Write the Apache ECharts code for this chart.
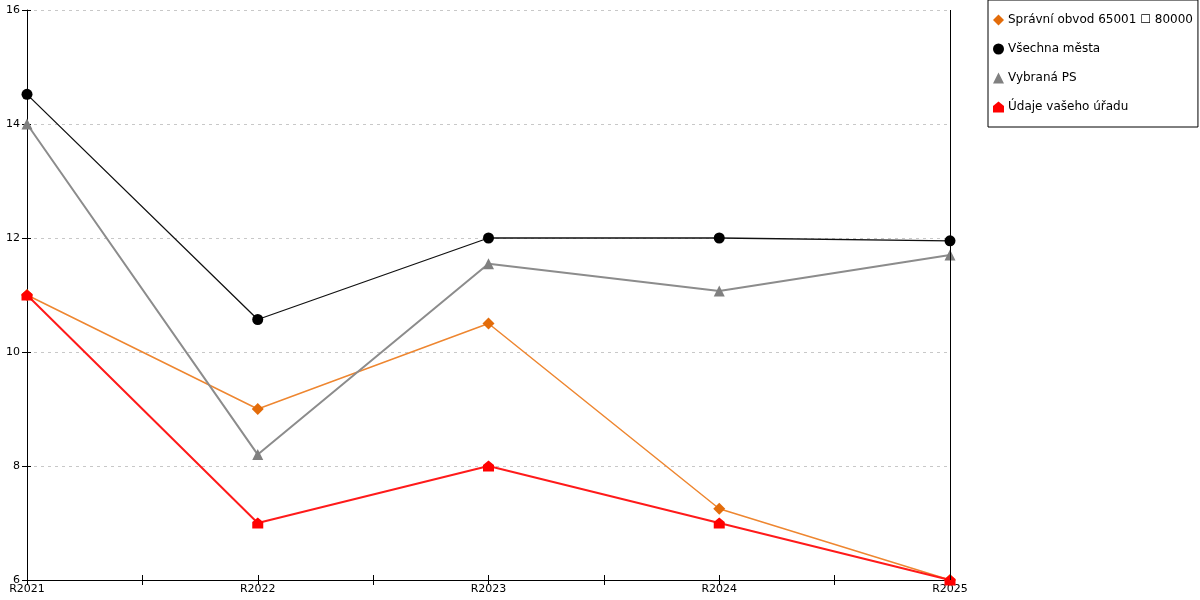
<!DOCTYPE html>
<html>
<head>
  <meta charset="utf-8">
  <title>Graf</title>
  <script src="https://cdn.jsdelivr.net/npm/echarts@6/dist/echarts.min.js"></script>
  <style>
    html, body { margin: 0; padding: 0; background: #fff; }
    #chart { width: 1200px; height: 600px; }
  </style>
</head>
<body>
<div id="chart"></div>
<script>
  // data
  const years = ['R2021', 'R2022', 'R2023', 'R2024', 'R2025'];
  const seriesNames = ['Správní obvod 65001 \u2610 80000', 'Všechna města', 'Vybraná PS', 'Údaje vašeho úřadu'];
  const obvod = [11, 9, 10.5, 7.25, 6];
  const mesta = [14.52, 10.57, 12, 12, 11.95];
  const vybranaPS = [14, 8.2, 11.55, 11.07, 11.7];
  const urad = [11, 7, 8, 7, 6];

  const house = 'path://M0,4 L5,0 L10,4 L10,10 L0,10 Z';
  const font = 'DejaVu Sans';

  function pts(arr) {
    return arr.map((v, i) => [i, v]);
  }

  // shared axis settings; second copies draw the inner half of each tick
  const xBase = {
    type: 'value',
    position: 'bottom',
    min: 0,
    max: years.length - 1,
    interval: 0.5,
    splitLine: { show: false }
  };
  const yBase = {
    type: 'value',
    position: 'left',
    min: 6,
    max: 16,
    interval: 2
  };

  let chart = echarts.init(document.getElementById('chart'));
  chart.setOption({
    animation: false,
    textStyle: { fontFamily: font },
    grid: { left: 27, right: 250, top: 10, bottom: 20 },
    legend: {
      orient: 'vertical',
      left: 988,
      top: 0,
      padding: [14, 5, 14, 5],
      itemGap: 17,
      itemWidth: 11,
      itemHeight: 11,
      borderColor: '#000',
      borderWidth: 1,
      backgroundColor: '#fff',
      borderRadius: 0,
      textStyle: { fontFamily: font, fontSize: 12, color: '#000', padding: [0, 0, 0, -1] },
      data: [
        { name: seriesNames[0], icon: 'diamond' },
        { name: seriesNames[1], icon: 'circle' },
        { name: seriesNames[2], icon: 'triangle' },
        { name: seriesNames[3], icon: house }
      ]
    },
    xAxis: [
      Object.assign({}, xBase, {
        axisLine: { lineStyle: { color: '#000', width: 1 } },
        axisTick: { show: true, length: 5, lineStyle: { color: '#000' } },
        axisLabel: {
          color: '#000',
          fontSize: 11,
          margin: 4,
          showMinLabel: true,
          showMaxLabel: true,
          formatter: v => Number.isInteger(v) ? years[v] : ''
        }
      }),
      Object.assign({}, xBase, {
        axisLine: { show: false },
        axisTick: { show: true, inside: true, length: 5, lineStyle: { color: '#000' } },
        axisLabel: { show: false }
      })
    ],
    yAxis: [
      Object.assign({}, yBase, {
        axisLine: { show: true, lineStyle: { color: '#000', width: 1 } },
        axisTick: { show: true, length: 5, lineStyle: { color: '#000' } },
        axisLabel: { color: '#000', fontSize: 11, margin: 7 },
        splitLine: { show: true, lineStyle: { color: '#c8c8c8', type: [3, 4] } }
      }),
      Object.assign({}, yBase, {
        axisLine: { show: false },
        axisTick: { show: true, inside: true, length: 4, lineStyle: { color: '#000' } },
        axisLabel: { show: false },
        splitLine: { show: false }
      })
    ],
    series: [
      {
        name: seriesNames[0],
        type: 'line',
        data: pts(obvod),
        symbol: 'diamond',
        symbolSize: 12,
        lineStyle: { color: '#ee8630', width: 1.5 },
        itemStyle: { color: '#e36c0a' },
        // right-hand frame line at the last year
        markLine: {
          silent: true,
          symbol: 'none',
          label: { show: false },
          lineStyle: { color: '#000', width: 1, type: 'solid' },
          data: [{ xAxis: years.length - 1 }]
        }
      },
      {
        name: seriesNames[1],
        type: 'line',
        data: pts(mesta),
        symbol: 'circle',
        symbolSize: 11,
        lineStyle: { color: '#111', width: 1.3 },
        itemStyle: { color: '#000' }
      },
      {
        name: seriesNames[2],
        type: 'line',
        data: pts(vybranaPS),
        symbol: 'triangle',
        symbolSize: 11,
        lineStyle: { color: '#8c8c8c', width: 2 },
        itemStyle: { color: '#808080' }
      },
      {
        name: seriesNames[3],
        type: 'line',
        data: pts(urad),
        symbol: house,
        symbolSize: 11,
        lineStyle: { color: '#ff1a1a', width: 2 },
        itemStyle: { color: '#ff0000' }
      }
    ]
  });
</script>
</body>
</html>
